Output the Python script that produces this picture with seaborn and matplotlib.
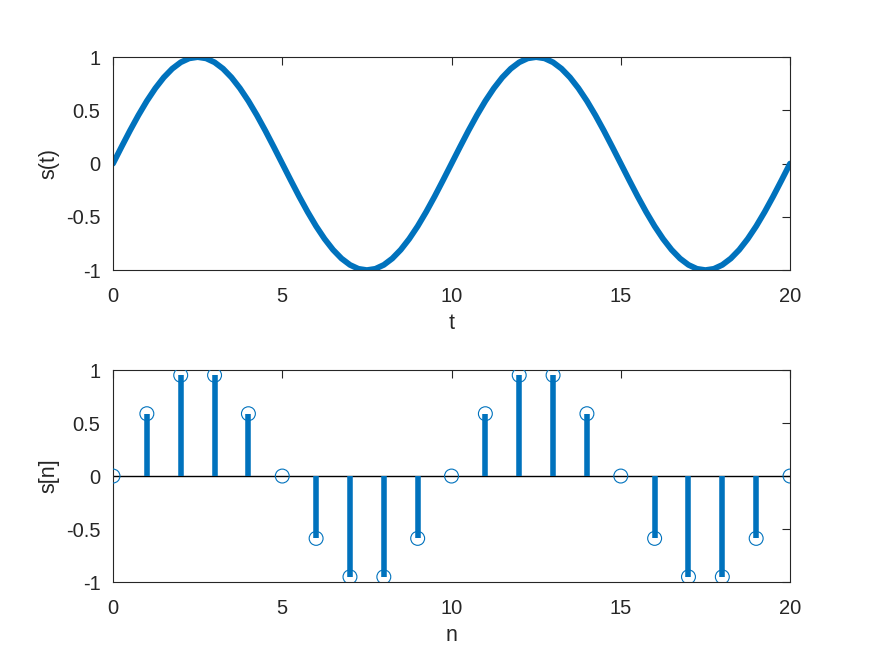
import numpy as np
import pandas as pd
import matplotlib
matplotlib.use("Agg")
import matplotlib.pyplot as plt
import seaborn as sns

# curva continua s(t), muestreada cada 0.25
t = [i * 0.25 for i in range(81)]
s_t = [0.000, 0.156, 0.309, 0.454, 0.588, 0.707, 0.809, 0.891, 0.951, 0.988,
       1.000, 0.988, 0.951, 0.891, 0.809, 0.707, 0.588, 0.454, 0.309, 0.156,
       0.000, -0.156, -0.309, -0.454, -0.588, -0.707, -0.809, -0.891, -0.951, -0.988,
       -1.000, -0.988, -0.951, -0.891, -0.809, -0.707, -0.588, -0.454, -0.309, -0.156,
       0.000, 0.156, 0.309, 0.454, 0.588, 0.707, 0.809, 0.891, 0.951, 0.988,
       1.000, 0.988, 0.951, 0.891, 0.809, 0.707, 0.588, 0.454, 0.309, 0.156,
       0.000, -0.156, -0.309, -0.454, -0.588, -0.707, -0.809, -0.891, -0.951, -0.988,
       -1.000, -0.988, -0.951, -0.891, -0.809, -0.707, -0.588, -0.454, -0.309, -0.156,
       0.000]

# señal discreta s[n]
n = list(range(21))
s_n = [0, 0.588, 0.951, 0.951, 0.588, 0, -0.588, -0.951, -0.951, -0.588,
       0, 0.588, 0.951, 0.951, 0.588, 0, -0.588, -0.951, -0.951, -0.588, 0]

xticks = [0, 5, 10, 15, 20]
yticks = [-1, -0.5, 0, 0.5, 1]
yticklabels = ['-1', '-0.5', '0', '0.5', '1']

azul = '#0072BD'

sns.set_style('white')
plt.rcParams['font.family'] = ['Liberation Sans', 'DejaVu Sans']

fig = plt.figure(figsize=(8.72, 6.54), dpi=100)
ax1 = fig.add_axes([0.1296, 0.587, 0.7764, 0.3257])
ax2 = fig.add_axes([0.1296, 0.110, 0.7764, 0.3242])

df_t = pd.DataFrame({'t': t, 's': s_t})
sns.lineplot(data=df_t, x='t', y='s', ax=ax1, color=azul, linewidth=4.2)
ax1.set_xlabel('t', fontsize=15.5, labelpad=5)
ax1.set_ylabel('s(t)', fontsize=15.5, labelpad=5)

df_n = pd.DataFrame({'n': n, 's': s_n})
ax2.axhline(0, color='black', linewidth=1, zorder=1)
ax2.vlines(df_n['n'], 0, df_n['s'], color=azul, linewidth=4, zorder=2)
sns.scatterplot(data=df_n, x='n', y='s', ax=ax2, marker='o', s=100,
                facecolor='none', edgecolor=azul, linewidth=0.8, zorder=3)
ax2.set_xlabel('n', fontsize=15.5, labelpad=5)
ax2.set_ylabel('s[n]', fontsize=15.5, labelpad=5)

for ax in (ax1, ax2):
    ax.set_xlim(0, 20)
    ax.set_ylim(-1, 1)
    ax.set_xticks(xticks)
    ax.set_yticks(yticks)
    ax.set_yticklabels(yticklabels)
    ax.tick_params(direction='in', length=6, width=0.8, labelsize=14.5,
                   top=True, right=True, colors='#262626')
    ax.tick_params(axis='x', pad=12)
    ax.tick_params(axis='y', pad=9)
    for sp in ax.spines.values():
        sp.set_linewidth(0.8)
        sp.set_color('#262626')
    ax.grid(False)

fig.savefig('out.png', dpi=100, facecolor='white')
